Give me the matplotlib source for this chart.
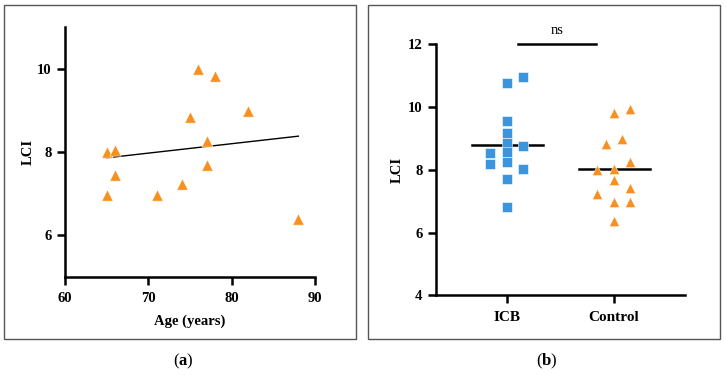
import numpy as np
import matplotlib
matplotlib.use('Agg')
import matplotlib.pyplot as plt
from matplotlib.patches import Rectangle

plt.rcParams['font.family'] = ['Liberation Serif', 'DejaVu Serif']
plt.rcParams['mathtext.fontset'] = 'custom'
plt.rcParams['mathtext.rm'] = 'Liberation Serif'
plt.rcParams['mathtext.bf'] = 'Liberation Serif:bold'

# (a) LCI vs age, control group
age = [65, 66, 66, 65, 71, 74, 75, 76, 78, 77, 77, 82, 88]
lci_ctrl = [8.00, 8.05, 7.44, 6.97, 6.97, 7.24, 8.85, 10.00, 9.82, 8.26, 7.70, 8.98, 6.39]
fit_age = [65, 88]
fit_lci = [7.86, 8.38]

# (b) ICB vs Control
lci_icb = [10.76, 10.95, 9.56, 9.18, 8.87, 8.58, 8.55, 8.76, 8.18, 8.24, 8.01, 7.70, 6.83]
col_icb = [0, 2, 0, 0, 0, 0, -2, 2, -2, 0, 2, 0, 0]
lci_ctrl_b = [8.82, 8.00, 7.22, 9.80, 8.03, 7.68, 6.96, 6.37, 8.97, 9.95, 8.26, 7.41, 6.96]
col_ctrl = [-1, -2, -2, 0, 0, 0, 0, 0, 1, 2, 2, 2, 2]
median_icb = 8.79
median_ctrl = 8.02
groups = ['ICB', 'Control']

orange = '#F7901E'
blue = '#3B94DC'
W, H = 726, 375

fig = plt.figure(figsize=(7.26, 3.75), dpi=100)

def px_axes(x0, y0, x1, y1):
    return fig.add_axes([x0 / W, 1 - y1 / H, (x1 - x0) / W, (y1 - y0) / H])

def style(ax):
    for s in ['top', 'right']:
        ax.spines[s].set_visible(False)
    for s in ['left', 'bottom']:
        ax.spines[s].set_linewidth(1.8)
    ax.tick_params(width=1.8, length=5.5, labelsize=10.5, pad=4)
    ax.tick_params(axis='x', pad=5)
    for lab in ax.get_xticklabels() + ax.get_yticklabels():
        lab.set_fontweight('bold')

# panel frames
for x0, x1 in [(4, 356), (368.3, 720)]:
    fig.add_artist(Rectangle((x0 / W, 1 - 339.3 / H), (x1 - x0) / W, (339.3 - 5.3) / H,
                             transform=fig.transFigure, fill=False,
                             edgecolor='#555555', linewidth=1.0))

# (a)
ax1 = px_axes(65, 27, 315, 277)
ax1.scatter(age, lci_ctrl, marker='^', s=66, color=orange, edgecolors='white',
            linewidths=0.4, zorder=3, clip_on=False)
ax1.plot(fit_age, fit_lci, color='black', linewidth=1.0)
ax1.set_xlim(60, 90)
ax1.set_ylim(5, 11)
ax1.set_xticks([60, 70, 80, 90])
ax1.set_yticks([6, 8, 10])
ax1.set_xlabel('Age (years)', fontsize=10.5, fontweight='bold', labelpad=7)
ax1.set_ylabel('LCI', fontsize=10.5, fontweight='bold', labelpad=2)
style(ax1)

# (b)
ax2 = px_axes(435.7, 44.3, 684.7, 295.3)
step = 0.0775
ax2.scatter([1 + c * step for c in col_icb], lci_icb, marker='s', s=46, color=blue,
            edgecolors='white', linewidths=0.4, zorder=3)
ax2.scatter([2 + c * step for c in col_ctrl], lci_ctrl_b, marker='^', s=56, color=orange,
            edgecolors='white', linewidths=0.4, zorder=3)
ax2.plot([0.674, 1.34], [median_icb, median_icb], color='black', linewidth=1.8, zorder=2)
ax2.plot([1.675, 2.335], [median_ctrl, median_ctrl], color='black', linewidth=1.8, zorder=2)
ax2.plot([1.11, 1.83], [12, 12], color='black', linewidth=1.8, clip_on=False)
ax2.text(1.47, 12.22, 'ns', ha='center', va='bottom', fontsize=10.5)
ax2.set_xlim(0.34, 2.66)
ax2.set_ylim(4, 12)
ax2.set_xticks([1, 2])
ax2.set_xticklabels(groups)
ax2.set_yticks([4, 6, 8, 10, 12])
ax2.set_ylabel('LCI', fontsize=10.5, fontweight='bold', labelpad=3)
style(ax2)
ax2.tick_params(axis='x', labelsize=11, pad=6)

fig.text(183 / W, 1 - 361 / H, r'($\mathbf{a}$)', ha='center', va='center', fontsize=12)
fig.text(546.5 / W, 1 - 361 / H, r'($\mathbf{b}$)', ha='center', va='center', fontsize=12)

fig.savefig('out.png', dpi=100)
